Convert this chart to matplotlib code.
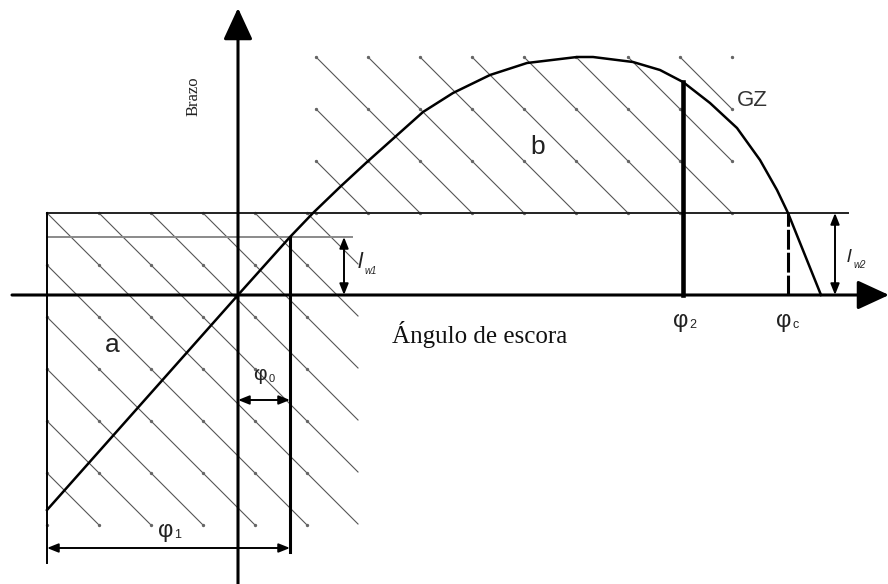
import matplotlib
matplotlib.use('Agg')
import matplotlib.pyplot as plt
import numpy as np

# GZ curve (righting arm vs heel angle), diagram units, origin at axes crossing
gz_x = [-191, 0, 52, 75, 102, 129, 157, 185, 215, 252, 289, 339, 355, 395, 422, 445, 472, 499, 522, 539, 550, 583]
gz_y = [-215, 0, 58, 82, 108, 133, 158, 183, 202, 220, 232, 238, 238, 233, 225, 213, 192, 167, 135, 105, 82, 0]

# heeling levers
lw1 = 58
lw2 = 82

# angles
phi0 = 52
phi1 = -191
phi2 = 445
phic = 550

# hatched areas (x0, x1, y0, y1) and hatch spacing
area_a = (-191, 120, -230, 82)
area_b = (78, 495, 82, 238)
hatch_step = 52

FONT = ['Liberation Sans', 'DejaVu Sans']
SERIF = ['Liberation Serif', 'DejaVu Serif']


def hatch(ax, box, step):
    x0, x1, y0, y1 = box
    c0 = x0 + y1
    for k in range(-20, 40):
        c = c0 + step * k
        xa = max(x0, c - y1)
        xb = min(x1, c - y0)
        if xb > xa:
            ax.plot([xa, xb], [c - xa, c - xb], color='#555555', lw=0.8, zorder=1)
    gx = np.arange(x0, x1 + 1, step)
    gy = np.arange(y1, y0 - 1, -step)
    X, Y = np.meshgrid(gx, gy)
    ax.plot(X.ravel(), Y.ravel(), 'o', ms=1.4, color='#666666', zorder=1)


def dbl_arrow(ax, p0, p1):
    ax.annotate('', xy=p1, xytext=p0, annotation_clip=False,
                arrowprops=dict(arrowstyle='<|-|>,head_length=0.55,head_width=0.22',
                                mutation_scale=12, lw=1.4, color='k',
                                shrinkA=0, shrinkB=0), zorder=4)


def phi_label(ax, x, y, sub, size=17, subsize=9):
    ax.text(x, y, 'φ', fontsize=size, family=FONT, color='#222222', ha='center', va='center')
    ax.text(x + 12, y - 4, sub, fontsize=subsize, family=FONT, color='#222222', ha='center', va='center')


fig = plt.figure(figsize=(8.88, 5.84), dpi=100)
ax = fig.add_axes([0, 0, 1, 1])
ax.set_xlim(-238, 650)
ax.set_ylim(-289, 295)
ax.axis('off')

hatch(ax, area_a, hatch_step)
hatch(ax, area_b, hatch_step)

# axes with arrows
axprops = dict(arrowstyle='-|>,head_length=1.3,head_width=0.6', mutation_scale=15,
               lw=2.2, color='k', shrinkA=0, shrinkB=0)
ax.annotate('', xy=(651, 0), xytext=(-226, 0), arrowprops=axprops, zorder=3,
            annotation_clip=False)
ax.annotate('', xy=(0, 287), xytext=(0, -295), arrowprops=axprops, zorder=3,
            annotation_clip=False)

# lever lines
ax.plot([phi1, 610], [lw2, lw2], color='#222222', lw=1.4, zorder=2)
ax.plot([phi1, 114], [lw1, lw1], color='#8a8a8a', lw=1.4, zorder=2)

# verticals
ax.plot([phi1, phi1], [lw2, -268], color='k', lw=1.4, zorder=2)
ax.plot([phi0, phi0], [lw1, -257], color='k', lw=2.2, zorder=2)
ax.plot([phi2, phi2], [0, np.interp(phi2, gz_x, gz_y)], color='k', lw=3.3, zorder=3)
ax.plot([phic, phic], [0, lw2], color='k', lw=2.2, dashes=(6.5, 1), zorder=3)

# GZ curve
ax.plot(gz_x, gz_y, color='k', lw=1.8, zorder=3, solid_joinstyle='round')

# dimension arrows
dbl_arrow(ax, (phi1, -253), (phi0, -253))
dbl_arrow(ax, (0, -105), (phi0, -105))
dbl_arrow(ax, (106, 0), (106, lw1))
dbl_arrow(ax, (597, 0), (597, lw2))

# labels
ax.text(-44, 199, 'Brazo', rotation=90, fontsize=12, family=SERIF, color='#222222',
        ha='center', va='center')
ax.text(242, -40, 'Ángulo de escora', fontsize=18, family=SERIF, color='#111111',
        ha='center', va='center')
ax.text(-126, -50, 'a', fontsize=19, family=FONT, color='#222222', ha='center', va='center')
ax.text(300, 148, 'b', fontsize=19, family=FONT, color='#222222', ha='center', va='center')
ax.text(514, 195, 'GZ', fontsize=16, family=FONT, color='#333333', ha='center', va='center')

phi_label(ax, 443, -26, '2')
phi_label(ax, 546, -26, 'c')
phi_label(ax, 22, -80, '0', size=15, subsize=8)
phi_label(ax, -72, -236, '1')

ax.text(122, 32, 'l', fontsize=16, family=FONT, style='italic', color='#222222', ha='center', va='center')
ax.text(133, 24, 'w1', fontsize=7, family=FONT, style='italic', color='#222222', ha='center', va='center')
ax.text(611, 37, 'l', fontsize=14, family=FONT, style='italic', color='#222222', ha='center', va='center')
ax.text(622, 30, 'w2', fontsize=7, family=FONT, style='italic', color='#222222', ha='center', va='center')

fig.savefig('out.png', dpi=100)
